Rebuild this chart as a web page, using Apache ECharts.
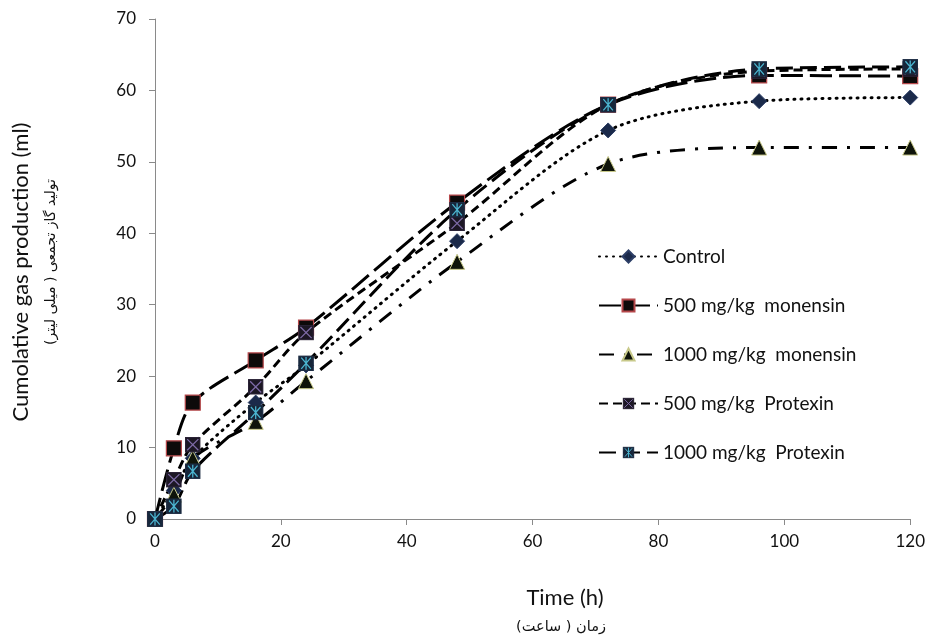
<!DOCTYPE html>
<html>
<head>
<meta charset="utf-8">
<script src="https://cdn.jsdelivr.net/npm/echarts@6/dist/echarts.min.js"></script>
<style>
html,body{margin:0;padding:0;background:#fff;}
#chart{width:928px;height:641px;}
</style>
</head>
<body>
<div id="chart"></div>
<script>
// ---- data ----
var times = [0, 3, 6, 16, 24, 48, 72, 96, 120];
var control = [0, 4, 8.5, 16.3, 21.5, 38.9, 54.4, 58.5, 59];
var monensin500 = [0, 9.9, 16.3, 22.2, 26.8, 44.3, 58, 62.1, 62];
var monensin1000 = [0, 3.4, 8.5, 13.6, 19.3, 36, 49.7, 52, 52];
var protexin500 = [0, 5.5, 10.4, 18.5, 26.1, 41.4, 58, 62.7, 63];
var protexin1000 = [0, 1.8, 6.7, 14.9, 21.8, 43.3, 58, 63, 63.3];
var seriesNames = ['Control', '500 mg/kg  monensin', '1000 mg/kg  monensin', '500 mg/kg  Protexin', '1000 mg/kg  Protexin'];
var xTitle = 'Time (h)';
var xTitleFa = 'زمان ( ساعت)';
var yTitle = 'Cumolative gas production (ml)';
var yTitleFa = 'تولید گاز تجمعی ( میلی لیتر)';

function pairs(arr) { return times.map(function (t, i) { return [t, arr[i]]; }); }
function svgSymbol(svg) { return 'image://data:image/svg+xml;charset=utf-8,' + encodeURIComponent(svg); }

var symPro500 = svgSymbol('<svg xmlns="http://www.w3.org/2000/svg" width="20" height="20" viewBox="0 0 20 20"><rect x="1" y="1" width="18" height="18" fill="#1c1724" stroke="#2a2236" stroke-width="1.5"/><path d="M3 3 L17 17 M17 3 L3 17" stroke="#7d6aa6" stroke-width="1.6"/></svg>');
var symPro1000 = svgSymbol('<svg xmlns="http://www.w3.org/2000/svg" width="20" height="20" viewBox="0 0 20 20"><rect x="1" y="1" width="18" height="18" fill="#17263a" stroke="#1d2d44" stroke-width="1.5"/><path d="M4 3 L16 17 M16 3 L4 17 M10 2 L10 18" stroke="#4bb5d0" stroke-width="1.6"/></svg>');

var font = "Lato, 'Open Sans', 'DejaVu Sans', sans-serif";
var faFont = "'DejaVu Sans', sans-serif";

var chart = echarts.init(document.getElementById('chart'), null, {renderer: 'canvas'});

var SM = 0.3;

chart.setOption({
  animation: false,
  backgroundColor: '#fff',
  textStyle: {fontFamily: font},
  grid: {left: 155, right: 16, top: 19, bottom: 122, containLabel: false},
  legend: {
    orient: 'vertical',
    left: 593,
    top: 242,
    itemWidth: 59,
    itemHeight: 15,
    itemGap: 30,
    textStyle: {fontSize: 19, color: '#111', fontFamily: font},
    data: seriesNames
  },
  graphic: [
    {type: 'text', x: 565, y: 598, style: {text: xTitle, fontSize: 22, fontFamily: font, fill: '#111', align: 'center', verticalAlign: 'middle'}},
    {type: 'text', x: 561, y: 627, style: {text: xTitleFa, fontSize: 14.5, fontFamily: faFont, fill: '#111', align: 'center', verticalAlign: 'middle'}},
    {type: 'text', x: 21, y: 272, rotation: Math.PI / 2, style: {text: yTitle, fontSize: 22, fontFamily: font, fill: '#111', align: 'center', verticalAlign: 'middle'}},
    {type: 'text', x: 51, y: 262, rotation: Math.PI / 2, style: {text: yTitleFa, fontSize: 14, fontFamily: faFont, fill: '#111', align: 'center', verticalAlign: 'middle'}}
  ],
  xAxis: {
    type: 'value', min: 0, max: 120, interval: 20,
    axisLine: {lineStyle: {color: '#8a8a8a', width: 1}},
    axisTick: {show: true, length: 6, lineStyle: {color: '#8a8a8a'}},
    axisLabel: {fontSize: 17, color: '#111', margin: 14, fontFamily: font},
    splitLine: {show: false}
  },
  yAxis: {
    type: 'value', min: 0, max: 70, interval: 10,
    axisLine: {show: true, lineStyle: {color: '#8a8a8a', width: 1}},
    axisTick: {show: true, length: 6, lineStyle: {color: '#8a8a8a'}},
    axisLabel: {fontSize: 17, color: '#111', margin: 19, fontFamily: font},
    splitLine: {show: false}
  },
  series: [
    {
      name: seriesNames[0], type: 'line', data: pairs(control),
      smooth: SM,
      symbol: 'diamond', symbolSize: 15,
      lineStyle: {color: '#000', width: 3, type: [1, 6], cap: 'round'},
      itemStyle: {color: '#1b2a4a', borderColor: '#2c3e66', borderWidth: 1}
    },
    {
      name: seriesNames[1], type: 'line', data: pairs(monensin500),
      smooth: SM,
      symbol: 'rect', symbolSize: 15,
      lineStyle: {color: '#000', width: 3, type: [22, 7]},
      itemStyle: {color: '#0d0a0a', borderColor: '#b5474a', borderWidth: 1.2}
    },
    {
      name: seriesNames[2], type: 'line', data: pairs(monensin1000),
      smooth: SM,
      symbol: 'triangle', symbolSize: 15,
      lineStyle: {color: '#000', width: 3, type: [15, 10, 3, 10]},
      itemStyle: {color: '#0f140a', borderColor: '#c8c98a', borderWidth: 1}
    },
    {
      name: seriesNames[3], type: 'line', data: pairs(protexin500),
      smooth: SM,
      symbol: symPro500, symbolSize: 16,
      lineStyle: {color: '#000', width: 3, type: [9, 5]},
      itemStyle: {color: '#1c1724'}
    },
    {
      name: seriesNames[4], type: 'line', data: pairs(protexin1000),
      smooth: SM,
      symbol: symPro1000, symbolSize: 16,
      lineStyle: {color: '#000', width: 3, type: [17, 7]},
      itemStyle: {color: '#17263a'}
    }
  ]
});
</script>
</body>
</html>
